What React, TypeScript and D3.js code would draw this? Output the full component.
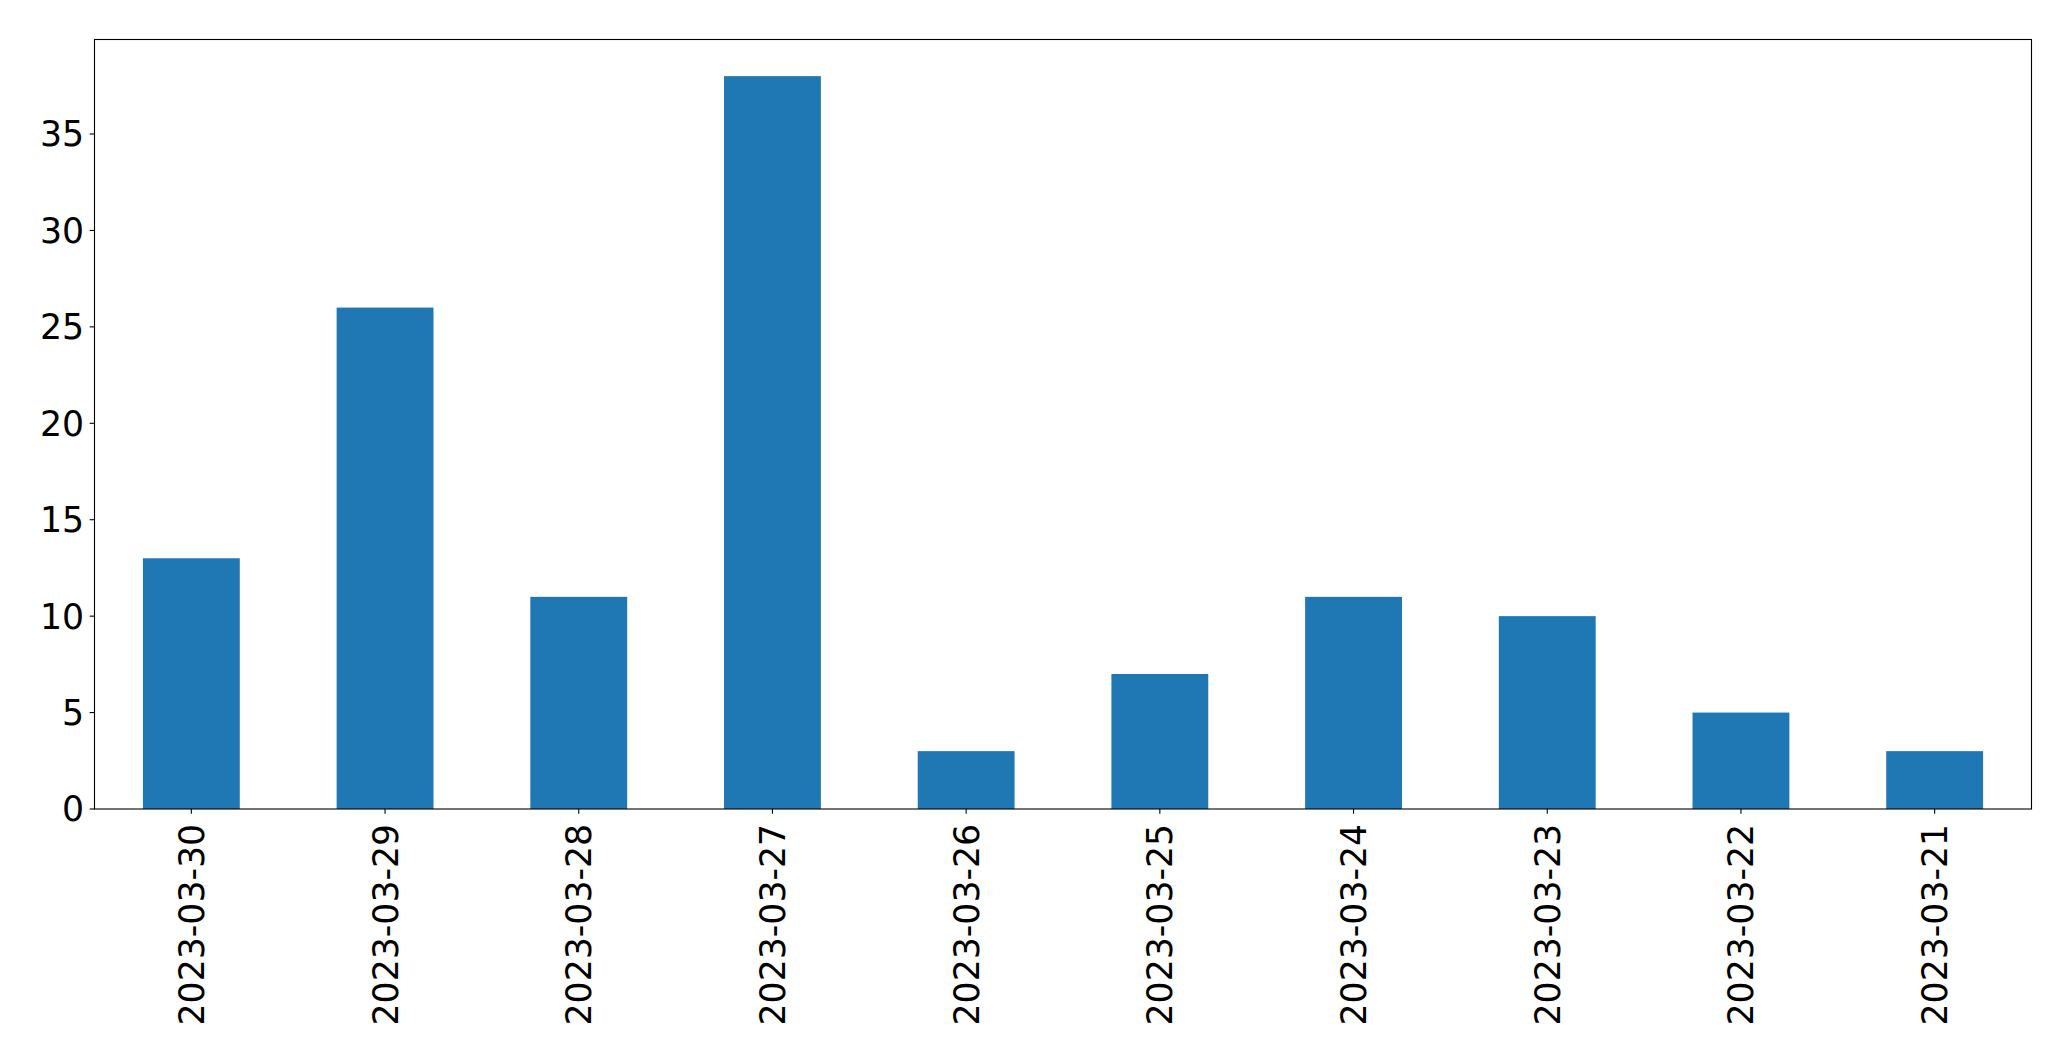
import React from "react";
import * as d3 from "d3";

const categories = ["2023-03-30", "2023-03-29", "2023-03-28", "2023-03-27", "2023-03-26", "2023-03-25", "2023-03-24", "2023-03-23", "2023-03-22", "2023-03-21"];
const values = [13, 26, 11, 38, 3, 7, 11, 10, 5, 3];
const yTicks = [0, 5, 10, 15, 20, 25, 30, 35];

const W = 2071;
const H = 1061;
const left = 94.5;
const right = 2031.5;
const top = 39.5;
const bottom = 809;
const font = "'DejaVu Sans', sans-serif";
const fs = 34.7;
const tickLen = 4.86;

export default function App() {
  const x = d3.scaleLinear().domain([-0.5, categories.length - 0.5]).range([left, right]);
  const y = d3.scaleLinear().domain([0, d3.max(values)! * 1.05]).range([bottom, top]);
  const bw = x(0.25) - x(-0.25);
  return (
    <svg width={W} height={H} style={{ position: "absolute", left: 0, top: 0, background: "#fff" }}>
      <rect x={0} y={0} width={W} height={H} fill="#fff" />
      {values.map((v, i) => (
        <rect key={i} x={x(i) - bw / 2} y={y(v)} width={bw} height={y(0) - y(v)} fill="#1f77b4" />
      ))}
      <rect x={left} y={top} width={right - left} height={bottom - top} fill="none" stroke="#000" strokeWidth={1.1} />
      {yTicks.map((t) => (
        <g key={t}>
          <line x1={left - tickLen} x2={left} y1={y(t)} y2={y(t)} stroke="#000" strokeWidth={1.1} />
          <text x={left - tickLen - 5.5} y={y(t)} dy="0.36em" textAnchor="end" fontFamily={font} fontSize={fs} fill="#000">{t}</text>
        </g>
      ))}
      {categories.map((c, i) => (
        <g key={c}>
          <line x1={x(i)} x2={x(i)} y1={bottom} y2={bottom + tickLen} stroke="#000" strokeWidth={1.1} />
          <text transform={`translate(${x(i)},${bottom + tickLen + 10}) rotate(-90)`} dy="0.36em" textAnchor="end" fontFamily={font} fontSize={fs} fill="#000">{c}</text>
        </g>
      ))}
    </svg>
  );
}
